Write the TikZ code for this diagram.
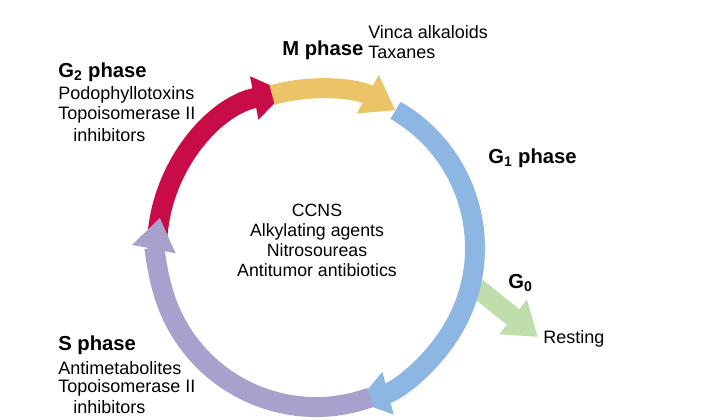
\documentclass[tikz,border=0pt]{standalone}
\usepackage{fontspec}
\setmainfont{Liberation Sans}
\usetikzlibrary{arrows.meta,positioning}
\definecolor{mred}{RGB}{200,12,72}
\definecolor{myel}{RGB}{236,196,104}
\definecolor{mblue}{RGB}{142,182,226}
\definecolor{mpur}{RGB}{170,160,206}
\definecolor{mgreen}{RGB}{192,222,172}
\tikzset{>=latex}
\tikzstyle{ring} = [line width=0.5cm, -{Triangle[length=0.8cm,width=1.05cm]}]
\tikzstyle{phase} = [anchor=west, inner sep=0pt, font=\fontsize{14.4}{16}\selectfont\bfseries]
\tikzstyle{drug} = [anchor=west, inner sep=0pt, font=\fontsize{12.8}{14}\selectfont]

\begin{document}
\begin{tikzpicture}[x=0.025cm,y=-0.025cm]
      \useasboundingbox (0,0) rectangle (717,420);
      \coordinate (c) at (316,248);
      % cell cycle ring
      \draw [ring,mgreen] (477,288) -- (538,337);
      \draw [ring,mblue] (c) ++(-60:159) arc [start angle=-60,end angle=75,radius=159];
      \draw [ring,mred] (c) ++(-178:159) arc [start angle=-178,end angle=-101,radius=159];
      \draw [ring,myel] (c) ++(-106:159) arc [start angle=-106,end angle=-60,radius=159];
      \draw [ring,mpur] (c) ++(70:159) arc [start angle=70,end angle=191,radius=159];

      \node [align=center, font=\fontsize{12.6}{14.2}\selectfont] (ccns) at (317,240) {CCNS\\Alkylating agents\\Nitrosoureas\\Antitumor antibiotics};

      \node [phase] (m) at (282,50) {M phase};
      \node [drug] (vinca) at (368,32) {Vinca alkaloids};
      \node [drug] (tax) at (368,52) {Taxanes};

      \node [phase] (g2) at (58,72) {G$_\mathbf{2}$ phase};
      \node [drug] (podo) at (58,95) {Podophyllotoxins};
      \node [drug] (topo1) at (58,115) {Topoisomerase II};
      \node [drug] (inh1) at (73,135) {inhibitors};

      \node [phase] (g1) at (488,158) {G$_\mathbf{1}$ phase};
      \node [phase] (g0) at (508,283) {G$_\mathbf{0}$};
      \node [drug] (rest) at (543,339) {Resting};

      \node [phase] (s) at (58,345) {S phase};
      \node [drug] (anti) at (58,368) {Antimetabolites};
      \node [drug] (topo2) at (58,388) {Topoisomerase II};
      \node [drug] (inh2) at (73,407) {inhibitors};
\end{tikzpicture}
\end{document}
